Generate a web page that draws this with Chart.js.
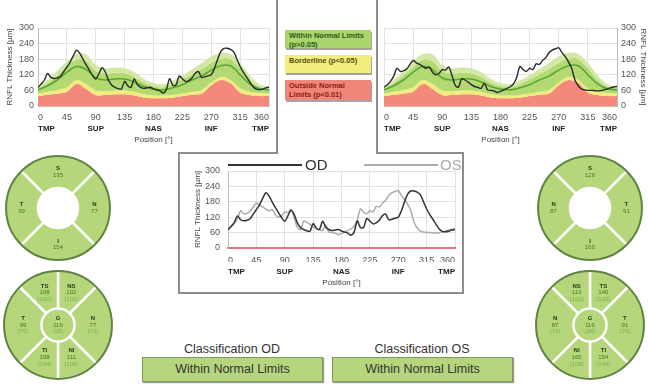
<!DOCTYPE html>
<html><head><meta charset="utf-8">
<script src="https://cdn.jsdelivr.net/npm/chart.js@4.4.1/dist/chart.umd.min.js"></script>
<style>
body{margin:0;background:#fff;width:648px;height:389px;overflow:hidden;position:relative;font-family:"Liberation Sans",Arial,sans-serif;}
canvas{position:absolute;}
.ln{position:absolute;background:#8d8d8d;}
.lg{position:absolute;left:285px;width:86px;font-weight:bold;font-size:7.5px;line-height:8.5px;padding:2px 0 0 4px;box-sizing:border-box;box-shadow:1px 2px 0 #a5a5a5;}
.ct{position:absolute;width:180px;text-align:center;font-size:12.5px;color:#333;}
.cb{position:absolute;width:181px;height:25px;background:#b6d67e;border:1px solid #7d9a58;box-sizing:border-box;text-align:center;line-height:23px;font-size:12.5px;color:#333;box-shadow:1px 1px 1px #999;}
.lgl{position:absolute;height:2px;}
.lgt{position:absolute;font-size:15px;line-height:16px;}
</style></head><body>

<canvas id="odProfile" width="276" height="150" style="left:0;top:0"></canvas>
<canvas id="osProfile" width="270" height="150" style="left:378px;top:0"></canvas>
<canvas id="cmpProfile" width="278" height="137" style="left:184px;top:154px"></canvas>

<div class="ln" style="left:276px;top:0;width:2px;height:154px"></div>
<div class="ln" style="left:376px;top:0;width:2px;height:154px"></div>
<div class="ln" style="left:178px;top:152px;width:100px;height:2px"></div>
<div class="ln" style="left:376px;top:152px;width:88px;height:2px"></div>
<div class="ln" style="left:178px;top:152px;width:2px;height:142px"></div>
<div class="ln" style="left:462px;top:152px;width:2px;height:142px"></div>
<div class="ln" style="left:178px;top:292px;width:286px;height:2px"></div>

<div class="lg" style="top:30px;height:18px;background:#a9d46e;color:#2e5c14">Within Normal Limits<br>(p&gt;0.05)</div>
<div class="lg" style="top:55px;height:18px;background:#f2ee7e;color:#5c4b0e">Borderline (p&lt;0.05)</div>
<div class="lg" style="top:80px;height:20px;background:#f2857a;color:#8b1c10">Outside Normal<br>Limits (p&lt;0.01)</div>

<div class="lgl" style="left:228px;top:164px;width:74px;background:#333"></div>
<div class="lgt" style="left:305px;top:157px;color:#333">OD</div>
<div class="lgl" style="left:364px;top:164px;width:74px;background:#aaa"></div>
<div class="lgt" style="left:440px;top:157px;color:#aaa">OS</div>

<canvas id="odSect4" width="108" height="108"></canvas>
<canvas id="odSect6" width="112" height="112"></canvas>
<canvas id="osSect4" width="108" height="108"></canvas>
<canvas id="osSect6" width="112" height="112"></canvas>

<div class="ct" style="left:142px;top:342px">Classification OD</div>
<div class="cb" style="left:142px;top:357px">Within Normal Limits</div>
<div class="ct" style="left:332px;top:342px">Classification OS</div>
<div class="cb" style="left:332px;top:357px">Within Normal Limits</div>

<script>
Chart.defaults.font.family = '"Liberation Sans", Arial, sans-serif';

// ---- data ----
const positionDeg = [0,5,10,15,20,25,30,35,40,45,50,55,60,65,70,75,80,85,90,95,100,105,110,115,120,125,130,135,140,145,150,155,160,165,170,175,180,185,190,195,200,205,210,215,220,225,230,235,240,245,250,255,260,265,270,275,280,285,290,295,300,305,310,315,320,325,330,335,340,345,350,355,360];
const odThickness = [71,85,100,125,110,106,108,114,132,150,168,193,215,203,180,158,138,118,104,125,147,130,98,80,72,67,65,95,78,72,104,82,72,68,70,72,66,62,58,50,62,105,80,80,115,105,94,98,108,126,132,110,112,116,120,145,180,210,222,222,218,208,180,152,130,112,92,74,65,63,65,70,72];
const osThickness = [72,82,95,115,145,133,135,142,160,175,166,160,152,145,150,130,120,125,140,138,150,118,80,72,105,100,92,82,75,72,68,88,62,60,58,52,56,62,68,74,85,110,152,140,133,145,140,162,160,175,186,205,215,220,224,205,190,170,145,100,78,66,62,60,60,59,58,59,62,66,70,73,76];

const normDeg   = [0,15,30,45,60,75,90,105,120,135,150,165,180,195,210,225,240,255,270,285,300,315,330,345,360];
const normP1    = [38,43,48,55,85,65,42,42,45,45,40,33,30,30,32,38,43,48,80,100,88,52,42,38,38];
const normP5    = [48,55,62,72,100,85,60,58,60,60,55,45,40,40,42,48,55,62,90,112,100,68,55,50,48];
const normP95   = [68,88,118,150,178,172,135,125,128,126,112,90,77,72,85,102,122,142,165,182,180,145,102,74,68];
const normUpper = [76,100,135,172,200,198,158,145,148,145,130,105,88,84,98,118,140,165,190,205,200,165,118,84,76];
const normMean  = [62,78,100,130,152,140,108,100,104,104,92,75,65,62,70,82,100,115,138,155,155,120,85,66,62];

const sectorTickDeg = [0,90,180,270,360];
const sectorTickLabels = ['TMP','SUP','NAS','INF','TMP'];

const span4 = [90,90,90,90];
const span6 = [45,90,45,45,90,45];

const odNames4 = ['S','N','I','T'];          const odVals4 = [135,77,154,99];
const osNames4 = ['S','T','I','N'];          const osVals4 = [126,91,160,87];
const odNames6 = ['NS','N','NI','TI','T','TS'];
const odVals6  = [102,77,111,198,99,168];
const odNorm6  = [102,73,108,144,76,130];
const osNames6 = ['TS','T','TI','NI','N','NS'];
const osVals6  = [140,91,154,165,87,113];
const osNorm6  = [130,76,144,108,73,102];
const globalVal = {od:116, os:116}; const globalNorm = 98;

// ---- helpers ----
const pts = (xs, ys) => xs.map((x, i) => ({x, y: ys[i]}));
const GRID = '#e2e2e2', TXT = '#555';

function profileOptions(side, pad, yWidth, xH, x2H, tickPadY, titlePadY, catPad, posPad, xPad) {
  const right = side === 'right';
  return {
    responsive:false, animation:false, events:[],
    layout:{padding:pad},
    plugins:{legend:{display:false}, tooltip:{enabled:false}},
    elements:{point:{radius:0}},
    scales:{
      x:{type:'linear', min:0, max:360, position:'bottom', weight:0,
         ticks:{stepSize:45, font:{size:9}, color:TXT, padding:xPad, align:'inner', maxRotation:0},
         grid:{color:GRID, drawTicks:false}, border:{color:'#bdbdbd'},
         afterFit:s=>{s.height = xH;}},
      x2:{type:'linear', min:0, max:360, position:'bottom', weight:1,
         afterBuildTicks:s=>{s.ticks = sectorTickDeg.map(v=>({value:v}));},
         ticks:{font:{size:8, weight:'bold'}, color:'#222', padding:catPad, align:'inner', maxRotation:0,
                callback:v=>sectorTickLabels[sectorTickDeg.indexOf(v)]},
         grid:{display:false, drawTicks:false}, border:{display:false},
         title:{display:true, text:'Position [°]', font:{size:8}, color:'#444', padding:{top:0,bottom:posPad}},
         afterFit:s=>{s.height = x2H;}},
      y:{min:0, max:300, position: right ? 'right' : 'left',
         ticks:{stepSize:60, font:{size:9}, color:TXT, padding:tickPadY},
         grid:{color:GRID, drawTicks:false}, border:{color:'#bdbdbd'},
         title:{display:true, text:'RNFL Thickness [µm]', font:{size:8}, color:'#444', padding:{top:titlePadY,bottom:0}},
         afterFit:s=>{s.width = yWidth;}}
    }
  };
}

function profile(id, measured, side, pad, yWidth) {
  new Chart(document.getElementById(id), {
    type:'line',
    data:{datasets:[
      {data:pts(normDeg,normP1),    backgroundColor:'#f4887b', borderWidth:0, fill:'origin', order:6, tension:0.4},
      {data:pts(normDeg,normP5),    backgroundColor:'#f2ec7c', borderWidth:0, fill:0, order:5, tension:0.4},
      {data:pts(normDeg,normP95),   backgroundColor:'#b3d972', borderWidth:0, fill:1, order:4, tension:0.4},
      {data:pts(normDeg,normUpper), backgroundColor:'#d2e9a6', borderWidth:0, fill:2, order:3, tension:0.4},
      {data:pts(normDeg,normMean),  borderColor:'#56a833', borderWidth:1.6, fill:false, order:2, tension:0.4},
      {data:pts(positionDeg,measured), borderColor:'#2a2a2a', borderWidth:1.4, fill:false, order:1, tension:0.3}
    ]},
    options: profileOptions(side, pad, yWidth, 15, 29, 4, side==='right'?0:5, 3, 5, 6)
  });
}

profile('odProfile', odThickness, 'left',  {top:28, right:7, left:0, bottom:0}, 38);
profile('osProfile', osThickness, 'right', {top:28, right:0, left:6, bottom:0}, 31);

// comparison chart
(function(){
  const o = profileOptions('left', {top:17, right:4, left:0, bottom:0}, 44, 14, 29, 8, 9, 5, 3, 7);
  o.scales.x.border = {color:'#e8707c', width:2};
  new Chart(document.getElementById('cmpProfile'), {
    type:'line',
    data:{datasets:[
      {data:pts(positionDeg,osThickness), borderColor:'#ababab', borderWidth:1.5, fill:false, order:2, tension:0.3},
      {data:pts(positionDeg,odThickness), borderColor:'#333333', borderWidth:1.5, fill:false, order:1, tension:0.3}
    ]},
    options:o
  });
})();

// ---- sector charts ----
const SECT = '#b6d67c';
const sectorLabels = {
  id:'sectorLabels',
  afterDatasetsDraw(chart){
    const ctx = chart.ctx;
    const m0 = chart.getDatasetMeta(0).data[0];
    ctx.save();
    ctx.beginPath();
    ctx.arc(m0.x, m0.y, m0.outerRadius - 0.8, 0, Math.PI*2);
    ctx.strokeStyle = '#5f8442'; ctx.lineWidth = 2; ctx.stroke();
    chart.data.datasets.forEach((ds, di) => {
      chart.getDatasetMeta(di).data.forEach((arc, i) => {
        const p = arc.getProps(['x','y','startAngle','endAngle','innerRadius','outerRadius'], true);
        let cx = p.x, cy = p.y;
        if (p.innerRadius > 0) {
          const mid = (p.startAngle + p.endAngle)/2;
          const r = (p.innerRadius + p.outerRadius)/2 * ds.labelR;
          cx += Math.cos(mid)*r; cy += Math.sin(mid)*r;
        }
        const lines = [[ds.names[i], 'bold 6px "Liberation Sans",Arial', '#1d3a10'],
                       [String(ds.vals[i]), '6px "Liberation Sans",Arial', '#3e7a22']];
        if (ds.norms) lines.push(['(' + ds.norms[i] + ')', '6px "Liberation Sans",Arial', '#73b447']);
        const lh = 6.8;
        let y0 = cy - (lines.length-1)*lh/2;
        ctx.textAlign = 'center'; ctx.textBaseline = 'middle';
        lines.forEach((l, k) => { ctx.font = l[1]; ctx.fillStyle = l[2]; ctx.fillText(l[0], cx, y0 + k*lh); });
      });
    });
    ctx.restore();
  }
};

function sect4(id, names, vals, cx, cy, size) {
  const c = document.getElementById(id);
  c.style.left = (cx - size/2) + 'px'; c.style.top = (cy - size/2) + 'px';
  new Chart(c, {
    type:'doughnut',
    data:{datasets:[{data:span4, backgroundColor:SECT, borderColor:'#fff', borderWidth:2.5, hoverBorderWidth:0,
                     names, vals, labelR:1.0}]},
    options:{responsive:false, animation:false, events:[], cutout:'38%', rotation:-45,
             layout:{padding:0}, plugins:{legend:{display:false}, tooltip:{enabled:false}}},
    plugins:[sectorLabels]
  });
}
function sect6(id, names, vals, norms, g, cx, cy, size) {
  const c = document.getElementById(id);
  c.style.left = (cx - size/2) + 'px'; c.style.top = (cy - size/2) + 'px';
  new Chart(c, {
    type:'pie',
    data:{datasets:[
      {data:span6, backgroundColor:SECT, borderColor:'#fff', borderWidth:2.5, hoverBorderWidth:0, weight:2.3,
       names, vals, norms, labelR:0.98},
      {data:[360], backgroundColor:SECT, borderWidth:0, hoverBorderWidth:0, weight:1,
       names:['G'], vals:[g], norms:[globalNorm], labelR:1}
    ]},
    options:{responsive:false, animation:false, events:[], rotation:0,
             layout:{padding:0}, plugins:{legend:{display:false}, tooltip:{enabled:false}}},
    plugins:[sectorLabels]
  });
}

sect4('odSect4', odNames4, odVals4, 58, 208, 108);
sect6('odSect6', odNames6, odVals6, odNorm6, globalVal.od, 58, 325, 112);
sect4('osSect4', osNames4, osVals4, 590, 208, 108);
sect6('osSect6', osNames6, osVals6, osNorm6, globalVal.os, 590, 325, 112);
</script>
</body></html>
